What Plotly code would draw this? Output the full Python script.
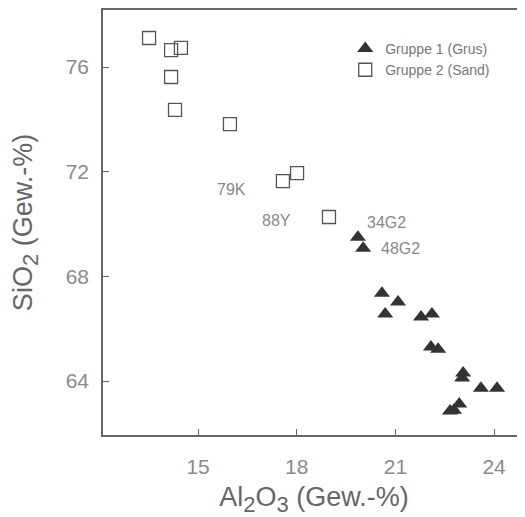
import plotly.graph_objects as go

# Gruppe 1 (Grus) - Al2O3 / SiO2 (Gew.-%)
grus_al2o3 = [19.86, 20.02, 20.59, 21.08, 20.69, 21.78, 22.11, 22.08, 22.30,
              23.06, 23.03, 23.60, 24.09, 22.66, 22.78, 22.94]
grus_sio2 = [69.50, 69.08, 67.36, 67.02, 66.56, 66.45, 66.56, 65.30, 65.22,
             64.31, 64.12, 63.73, 63.73, 62.86, 62.89, 63.12]

# Gruppe 2 (Sand)
sand_al2o3 = [13.51, 14.18, 14.48, 14.18, 14.30, 15.97, 17.58, 18.01, 18.98]
sand_sio2 = [77.11, 76.65, 76.73, 75.62, 74.36, 73.82, 71.64, 71.95, 70.27]

# Sample labels: (text, series, index)
sample_labels = ["79K", "88Y", "34G2", "48G2"]
label_series = ["sand", "sand", "grus", "grus"]
label_index = [6, 8, 0, 1]
label_shift = [(-51, -8), (-52, -3), (29, 15), (37, 0)]

x_ticks = [15, 18, 21, 24]
y_ticks = [64, 68, 72, 76]

FONT = "Liberation Sans"
AXIS_COL = "#666666"
SUB = "<sub><span style='font-size:22px'>{}</span></sub>"

fig = go.Figure()
fig.add_trace(go.Scatter(
    x=grus_al2o3, y=grus_sio2, mode="markers", name="Gruppe 1 (Grus)",
    marker=dict(symbol="triangle-up", size=14, color="#333333", line=dict(width=0)),
))
fig.add_trace(go.Scatter(
    x=sand_al2o3, y=sand_sio2, mode="markers", name="Gruppe 2 (Sand)",
    marker=dict(symbol="square-open", size=13, color="#555555", line=dict(width=1.3, color="#555555")),
))

for txt, ser, idx, (dx, dy) in zip(sample_labels, label_series, label_index, label_shift):
    xs = sand_al2o3 if ser == "sand" else grus_al2o3
    ys = sand_sio2 if ser == "sand" else grus_sio2
    fig.add_annotation(x=xs[idx], y=ys[idx], text=txt, showarrow=False,
                       xshift=dx, yshift=dy,
                       font=dict(family=FONT, size=16, color="#888888"))

fig.update_layout(
    width=517, height=509,
    margin=dict(l=95, r=0, t=2, b=82),
    paper_bgcolor="white", plot_bgcolor="white",
    font=dict(family=FONT),
    showlegend=True,
    legend=dict(x=0.574, y=0.946, xanchor="left", yanchor="top",
                bgcolor="rgba(0,0,0,0)", font=dict(family=FONT, size=14, color="#777777")),
    xaxis=dict(
        range=[12.11, 24.94], tickvals=x_ticks, ticks="inside", ticklen=6,
        tickcolor=AXIS_COL, showline=True, linecolor=AXIS_COL, linewidth=1.5,
        mirror=True, showgrid=False, zeroline=False, automargin=False,
        tickfont=dict(family=FONT, size=21, color="#8a8a8a"),
        ticklabelstandoff=12,
        title=dict(text="Al" + SUB.format("2") + "O" + SUB.format("3") + " (Gew.-%)", standoff=13,
                   font=dict(family=FONT, size=27, color="#666666")),
    ),
    yaxis=dict(
        range=[61.94, 78.18], tickvals=y_ticks, ticks="inside", ticklen=6,
        tickcolor=AXIS_COL, showline=True, linecolor=AXIS_COL, linewidth=1.5,
        showgrid=False, zeroline=False, automargin=False,
        tickfont=dict(family=FONT, size=21, color="#8a8a8a"),
        ticklabelstandoff=8,
        title=dict(text="SiO" + SUB.format("2") + " (Gew.-%)", standoff=27,
                   font=dict(family=FONT, size=27, color="#666666")),
    ),
)

fig.write_html("out.html")
